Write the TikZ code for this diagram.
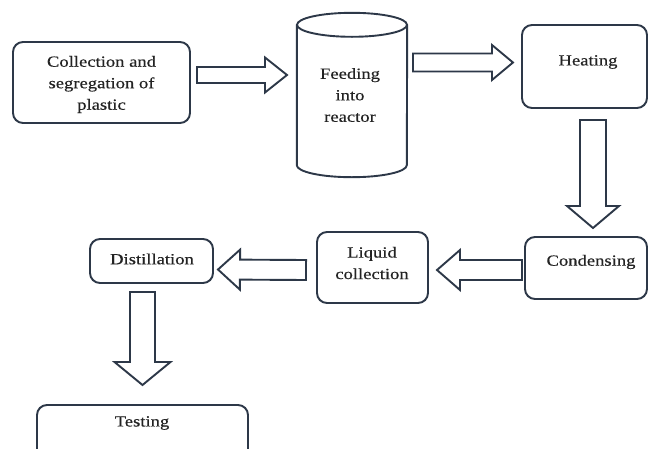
\documentclass[tikz,border=0pt]{standalone}
\usepackage{fontspec}
\setmainfont[FakeStretch=1.2,FakeBold=0.4]{Liberation Serif}
\usetikzlibrary{calc}
\definecolor{edge}{RGB}{45,56,72}
\definecolor{ink}{RGB}{35,35,35}
% block arrow from #1 to #2: shaft half width #3, head half width #4, head length #5
\newcommand\blockarrow[5]{%
  \coordinate (ba-h) at ($(#2)!#5!(#1)$);
  \draw[barrow] ($(#1)!#3!90:(#2)$) -- ($(ba-h)!#3!-90:(#1)$) -- ($(ba-h)!#4!-90:(#1)$)
    -- (#2) -- ($(ba-h)!#4!90:(#1)$) -- ($(ba-h)!#3!90:(#1)$) -- ($(#1)!#3!-90:(#2)$) -- cycle;
}
\begin{document}
\begin{tikzpicture}[x=1pt,y=-1pt,
  box/.style={draw=edge, line width=1.9pt, rounded corners=10pt, inner sep=0pt},
  lbl/.style={font=\fontsize{15.5}{21.5}\selectfont, align=center, text=ink, inner sep=0pt},
  barrow/.style={draw=edge, line width=1.9pt, fill=white, line join=miter}]
\clip (0,0) rectangle (649,448);
\fill[white] (0,0) rectangle (649,448);

% boxes
\node[box, minimum width=177pt, minimum height=81pt] (coll) at (101.5,82.5) {};
\node[lbl] (coll-t) at (101.5,84.5) {Collection and\\segregation of\\plastic};

\node[minimum width=110pt, minimum height=140pt, inner sep=0pt] (feed) at (352,95) {};
\draw[draw=edge, line width=1.9pt] (feed.north west) -- (feed.south west)
  arc[start angle=180, end angle=360, x radius=55pt, y radius=12pt] -- (feed.north east);
\draw[draw=edge, line width=1.9pt] (feed.north) ellipse [x radius=55pt, y radius=12pt];
\node[lbl] (feed-t) at (350,95) {Feeding\\into\\reactor};

\node[box, minimum width=125pt, minimum height=83pt] (heat) at (584.5,66.5) {};
\node[lbl] (heat-t) at (588,62) {Heating};

\node[box, minimum width=122pt, minimum height=62pt] (cond) at (586,268) {};
\node[lbl] (cond-t) at (591,262) {Condensing};

\node[box, minimum width=111pt, minimum height=71pt] (liq) at (372.5,267.5) {};
\node[lbl] (liq-t) at (372,263) {Liquid\\collection};

\node[box, minimum width=123pt, minimum height=44pt] (dist) at (151.5,261) {};
\node[lbl] (dist-t) at (152,259) {Distillation};

\node[box, minimum width=211pt, minimum height=55pt] (test) at (142.5,432.5) {};
\node[lbl] (test-t) at (142,423) {Testing};

% connector ends
\coordinate (a1s) at (197,75);   \coordinate (a1e) at (287,75);
\coordinate (a2s) at (413,62.5); \coordinate (a2e) at (513,62.5);
\coordinate (a3s) at (593,120);  \coordinate (a3e) at (593,228);
\coordinate (a4s) at (522,270);  \coordinate (a4e) at (437,270);
\coordinate (a5s) at (306,270);  \coordinate (a5e) at (218,269.5);
\coordinate (a6s) at (142.5,292); \coordinate (a6e) at (142.5,385);

\blockarrow{a1s}{a1e}{8pt}{17.5pt}{22pt}
\blockarrow{a2s}{a2e}{9pt}{17.5pt}{21pt}
\blockarrow{a3s}{a3e}{13pt}{26pt}{22pt}
\blockarrow{a4s}{a4e}{10pt}{20pt}{23pt}
\blockarrow{a5s}{a5e}{10pt}{20pt}{22pt}
\blockarrow{a6s}{a6e}{12.5pt}{28pt}{23pt}
\end{tikzpicture}
\end{document}
